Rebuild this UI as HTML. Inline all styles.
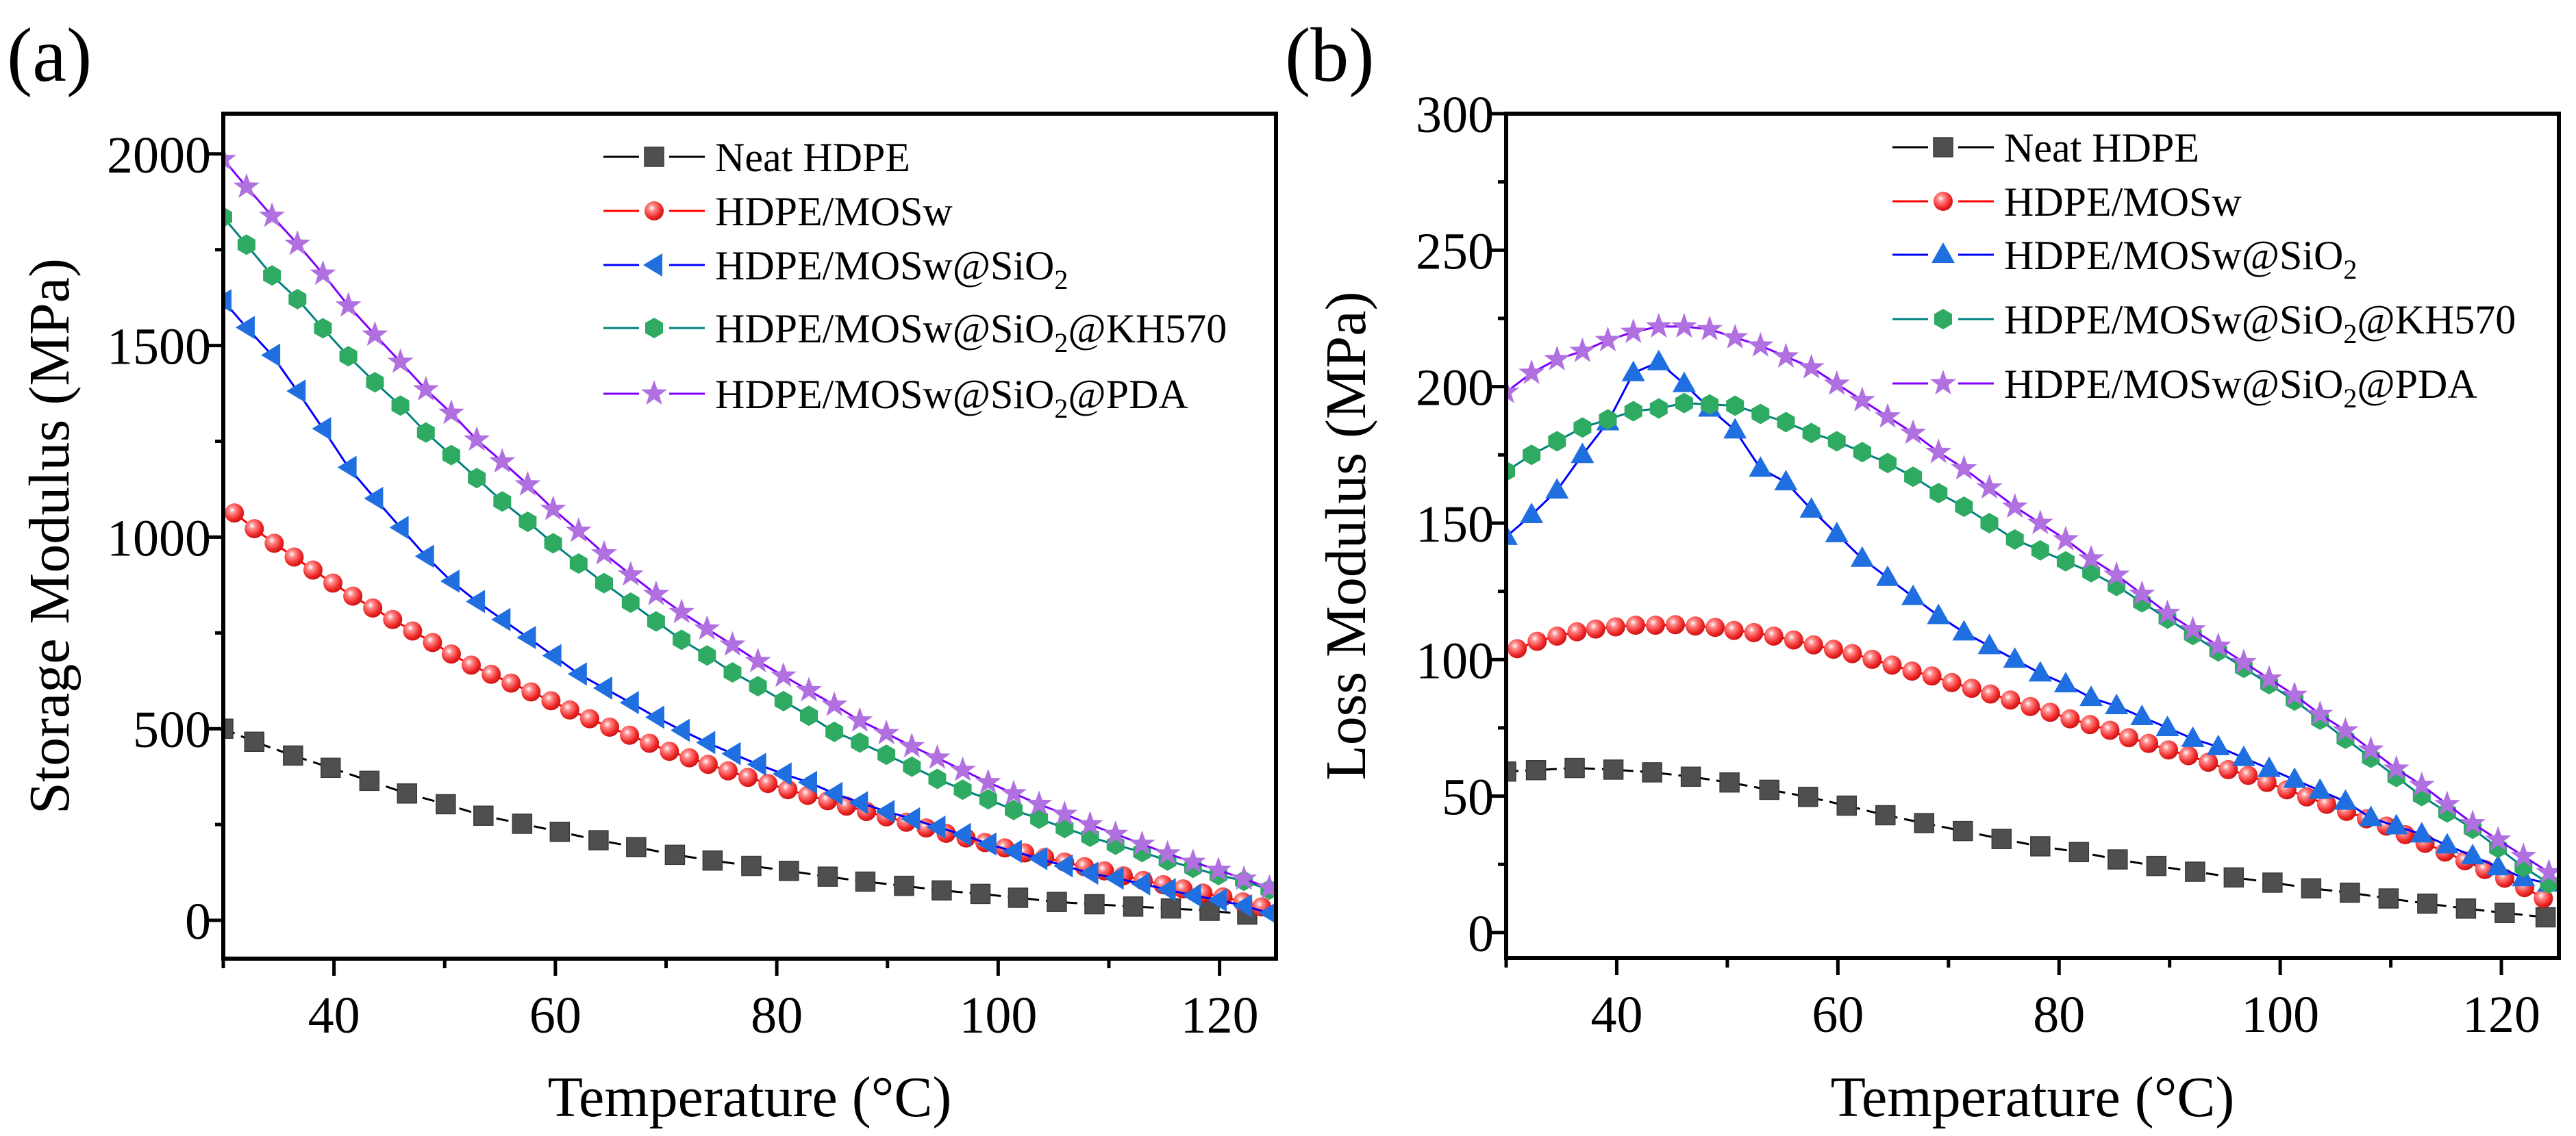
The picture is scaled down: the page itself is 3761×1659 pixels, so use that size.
<!DOCTYPE html>
<html><head><meta charset="utf-8"><style>
html,body{margin:0;padding:0;background:#fff;}
svg{display:block;font-family:"Liberation Serif",serif;}
</style></head><body>
<svg id="fig" xmlns="http://www.w3.org/2000/svg" width="3761" height="1659" viewBox="0 0 3761 1659">
<defs>
<radialGradient id="sph" cx="0.38" cy="0.35" r="0.7"><stop offset="0" stop-color="#ffffff"/><stop offset="0.25" stop-color="#ff8a8a"/><stop offset="0.7" stop-color="#f02828"/><stop offset="1" stop-color="#c01010"/></radialGradient>
<clipPath id="clipA"><rect x="326" y="166" width="1537" height="1234"/></clipPath>
<clipPath id="clipB"><rect x="2199" y="166" width="1537" height="1233"/></clipPath>
</defs>
<g id="root"></g>
</svg>
<script>
// ---- Panel (a) data: Storage modulus ----
const tempsA = [30,32.1,34.4,36.7,39.0,41.3,43.7,46.0,48.3,50.6,52.9,55.2,57.5,59.8,62.1,64.4,66.8,69.1,71.4,73.7,76.0,78.3,80.6,82.9,85.2,87.5,89.9,92.2,94.5,96.8,99.1,101.4,103.7,106.0,108.3,110.6,113.0,115.3,117.6,119.9,122.2,124.5];
const tempsRed = [31.0,32.8,34.6,36.4,38.1,39.9,41.7,43.5,45.3,47.1,48.9,50.6,52.4,54.2,56.0,57.8,59.6,61.3,63.1,64.9,66.7,68.5,70.3,72.1,73.8,75.6,77.4,79.2,81.0,82.8,84.6,86.3,88.1,89.9,91.7,93.5,95.3,97.1,98.8,100.6,102.4,104.2,106.0,107.8,109.6,111.3,113.1,114.9,116.7,118.5,120.3,122.1,123.8];
const tempsNeatA = [30,32.8,36.3,39.7,43.2,46.6,50.1,53.5,57.0,60.4,63.9,67.3,70.8,74.2,77.7,81.1,84.6,88.0,91.5,94.9,98.4,101.8,105.3,108.7,112.2,115.6,119.1,122.5];
const neatA = [500,466,430,398,364,331,303,273,252,231,209,191,171,156,142,129,114,101,90,78,69,59,48,42,36,31,25,15];
const mosA = [1063,1022,984,948,914,880,846,815,785,755,725,695,666,642,619,596,573,549,526,504,483,462,441,424,407,390,373,357,341,326,312,298,284,270,256,241,227,215,203,189,176,164,152,140,129,116,104,93,82,71,61,48,35];
const sio2A = [1617,1547,1475,1381,1283,1182,1101,1025,950,885,832,785,738,691,643,606,568,530,496,464,435,407,382,360,331,307,284,265,243,224,199,180,161,142,123,110,95,80,65,53,38,19];
const kh570A = [1835,1763,1683,1621,1545,1472,1404,1343,1273,1214,1154,1093,1040,984,931,880,829,780,732,691,647,611,572,534,492,464,432,401,369,341,316,288,265,241,218,197,178,156,137,118,103,80];
const pdaA = [1986,1914,1838,1765,1687,1604,1528,1457,1385,1324,1254,1197,1137,1073,1016,957,902,851,804,761,719,676,638,600,562,521,488,454,424,392,360,331,303,277,250,225,199,174,152,131,108,85];
const yTicksA = [0,500,1000,1500,2000];
const xTicks = [40,60,80,100,120];

// ---- Panel (b) data: Loss modulus ----
const tempsB = [30,32.3,34.6,36.9,39.2,41.5,43.8,46.1,48.4,50.7,53,55.3,57.6,59.9,62.2,64.5,66.8,69.1,71.4,73.7,76,78.3,80.6,82.9,85.2,87.5,89.8,92.1,94.4,96.7,99,101.3,103.6,105.9,108.2,110.5,112.8,115.1,117.4,119.7,122,124.3];
const tempsNeatB = [30,32.7,36.2,39.7,43.2,46.7,50.2,53.8,57.3,60.8,64.3,67.8,71.3,74.8,78.3,81.8,85.3,88.8,92.3,95.8,99.3,102.8,106.3,109.8,113.3,116.8,120.3,124.0];
const neatB = [59,59.5,60.3,59.7,58.7,57.1,55,52.3,49.7,46.5,43,40.1,37.2,34.3,31.6,29.5,26.8,24.4,22.3,20.2,18.3,16.2,14.6,12.5,10.6,8.8,7.2,5.6];
const mosB = [104,106.7,108.6,110.2,111.2,112,112.6,112.6,112.8,112.3,111.8,110.7,109.9,108.6,107.2,105.4,103.8,102.2,100.1,98,95.8,94,91.6,89.5,87.4,85.2,82.8,80.7,78.3,76.2,74.1,71.4,69.3,66.9,64.8,62.4,59.7,57.6,55,52.3,49.7,47,44.4,41.7,39,35.9,32.7,29.5,26.3,23.1,19.9,16.5,12.5];
const sio2B = [145,153,162,175,187,205,209,201,192,184,170,165,155,146,137,130,123,116,110,105,100,95,91,86,83,79,75,71,68,64,60,56,52,48,42,39,36,32,28,24,20,18];
const kh570B = [169,175,180,185,188,191,192,194,193.5,193,190,187,183,180,176,172,167,161,156,150,144,140,136,132,127,121,115,109,103,97,91,85,78,71,64,57,50,44,38,31,24,18];
const pdaB = [198,205,210,213,217,220,222,222,221,218,215,211,207,201,195,189,183,176,170,163,156,150,144,137,131,124,117,111,105,99,93,87,80,74,67,60,54,47,40,34,28,22];
const yTicksB = [0,50,100,150,200,250,300];

const NS = "http://www.w3.org/2000/svg";
const root = document.getElementById('root');
function mk(tag, attrs, parent){
  const e = document.createElementNS(NS, tag);
  for (const k in attrs) e.setAttribute(k, attrs[k]);
  (parent||root).appendChild(e);
  return e;
}
function marker(kind, cx, cy, g){
  let e;
  if (kind==='square'){
    e = mk('rect',{x:cx-14,y:cy-14,width:28,height:28,fill:'#4f4f4f',stroke:'#3a3a3a','stroke-width':1.5},g);
  } else if (kind==='sphere'){
    e = mk('circle',{cx:cx,cy:cy,r:14,fill:'url(#sph)'},g);
  } else if (kind==='triL'){
    e = mk('polygon',{points:`${cx-16},${cy} ${cx+12},${cy-17} ${cx+12},${cy+17}`,fill:'#1f6fe0'},g);
  } else if (kind==='triU'){
    e = mk('polygon',{points:`${cx},${cy-18} ${cx-17},${cy+12} ${cx+17},${cy+12}`,fill:'#1f6fe0'},g);
  } else if (kind==='hex'){
    let p=[];for(let i=0;i<6;i++){const a=Math.PI/6+i*Math.PI/3;p.push((cx+15*Math.cos(a)).toFixed(1)+','+(cy+15*Math.sin(a)).toFixed(1));}
    e = mk('polygon',{points:p.join(' '),fill:'#2eaa62'},g);
  } else {
    let p=[];for(let i=0;i<10;i++){const r=i%2?8:20;const a=-Math.PI/2+i*Math.PI/5;p.push((cx+r*Math.cos(a)).toFixed(1)+','+(cy+r*Math.sin(a)).toFixed(1));}
    e = mk('polygon',{points:p.join(' '),fill:'#b070e0'},g);
  }
  return e;
}

function panel(cfg){
  const {L,T,R,B,x0,x1,y0,y1,clip} = cfg;
  const sx = v => L + (v-x0)/(x1-x0)*(R-L);
  const sy = v => B - (v-y0)/(y1-y0)*(B-T);
  const g = mk('g',{});
  
  
  const plot = mk('g',{'clip-path':`url(#${clip})`},g);
  
  
  cfg.series.forEach(s=>{
    const sg = mk('g',{},plot);
    
    
    const d = s.y.map((v,i)=>(i?'L':'M')+sx(s.x[i]).toFixed(1)+','+sy(v).toFixed(1)).join(' ');
    const ln = mk('path',{d:d,fill:'none',stroke:s.color,'stroke-width':3,'stroke-dasharray':s.dash||'none'},sg);
    
    
    s.y.forEach((v,i)=>{
      const m = marker(s.kind, sx(s.x[i]), sy(v), sg);
      
      
    });
  });
  const fr = mk('rect',{x:L,y:T,width:R-L,height:B-T,fill:'none',stroke:'#000','stroke-width':6},g);
  
  
  for (let v=30; v<=x1+0.01; v+=10){
    const major = xTicks.includes(v);
    const t = mk('line',{x1:sx(v),x2:sx(v),y1:B,y2:B+(major?25:14),stroke:'#000','stroke-width':5},g);
    
    
  }
  xTicks.forEach(v=>{
    const t = mk('text',{x:sx(v),y:B+108,'font-size':76,'text-anchor':'middle'},g);
    t.textContent = v;
    
    
  });
  const yt = cfg.yTicks, step = (yt[1]-yt[0])/2;
  for (let v=yt[0]-step*Math.floor((yt[0]-y0)/step); v<=y1+0.01; v+=step){
    const major = yt.includes(v);
    const t = mk('line',{x1:L,x2:L-(major?22:12),y1:sy(v),y2:sy(v),stroke:'#000','stroke-width':5},g);
    
    
  }
  yt.forEach(v=>{
    const t = mk('text',{x:L-18,y:sy(v)+27,'font-size':76,'text-anchor':'end'},g);
    t.textContent = v;
    
    
  });
  const xt = mk('text',{x:(L+R)/2,y:1630,'font-size':84,'text-anchor':'middle'},g);
  xt.textContent = 'Temperature (\u00B0C)';
  
  
  const ytl = mk('text',{x:0,y:0,'font-size':84,'text-anchor':'middle',transform:`translate(${cfg.ytx},${(T+B)/2}) rotate(-90)`},g);
  ytl.textContent = cfg.ytitle;
  
  
  const pl = mk('text',{x:cfg.labX,y:118,'font-size':112},g);
  pl.textContent = cfg.label;
  
  
  const lg = mk('g',{},g);
  
  
  cfg.series.forEach((s,i)=>{
    const y = cfg.legRows[i];
    const e = mk('g',{},lg);
    
    
    mk('line',{x1:cfg.legX,x2:cfg.legX+148,y1:y,y2:y,stroke:s.color,'stroke-width':3},e);
    mk('rect',{x:cfg.legX+52,y:y-20,width:44,height:40,fill:'#fff'},e);
    marker(s.kind, cfg.legX+74, y, e);
    const t = mk('text',{x:cfg.legX+163,y:y+21,'font-size':60},e);
    t.innerHTML = s.label;
  });
}

const labels = ['Neat HDPE','HDPE/MOSw','HDPE/MOSw@SiO<tspan font-size="40" dy="14">2</tspan>','HDPE/MOSw@SiO<tspan font-size="40" dy="14">2</tspan><tspan dy="-14">@KH570</tspan>','HDPE/MOSw@SiO<tspan font-size="40" dy="14">2</tspan><tspan dy="-14">@PDA</tspan>'];

panel({name:'panel-a-storage-modulus',L:326,T:166,R:1863,B:1400,x0:30,x1:125.1,y0:-100,y1:2105,clip:'clipA',
  yTicks:yTicksA,ytitle:'Storage Modulus (MPa)',ytx:100,label:'(a)',labX:10,
  legX:881,legRows:[229,308,387,479,575],
  series:[
    {id:'neat-hdpe',x:tempsNeatA,y:neatA,color:'#000',dash:'18 10',kind:'square',label:labels[0]},
    {id:'hdpe-mosw',x:tempsRed,y:mosA,color:'#ff0000',kind:'sphere',label:labels[1]},
    {id:'hdpe-mosw-sio2',x:tempsA,y:sio2A,color:'#0000ff',kind:'triL',label:labels[2]},
    {id:'hdpe-mosw-sio2-kh570',x:tempsA,y:kh570A,color:'#008080',kind:'hex',label:labels[3]},
    {id:'hdpe-mosw-sio2-pda',x:tempsA,y:pdaA,color:'#7f00ff',kind:'star',label:labels[4]}
  ]});
panel({name:'panel-b-loss-modulus',L:2199,T:166,R:3736,B:1399,x0:30,x1:125.2,y0:-9.3,y1:300,clip:'clipB',
  yTicks:yTicksB,ytitle:'Loss Modulus (MPa)',ytx:1993,label:'(b)',labX:1876,
  legX:2763,legRows:[215,294,372,466,560],
  series:[
    {id:'neat-hdpe',x:tempsNeatB,y:neatB,color:'#000',dash:'18 10',kind:'square',label:labels[0]},
    {id:'hdpe-mosw',x:tempsRed,y:mosB,color:'#ff0000',kind:'sphere',label:labels[1]},
    {id:'hdpe-mosw-sio2',x:tempsB,y:sio2B,color:'#0000ff',kind:'triU',label:labels[2]},
    {id:'hdpe-mosw-sio2-kh570',x:tempsB,y:kh570B,color:'#008080',kind:'hex',label:labels[3]},
    {id:'hdpe-mosw-sio2-pda',x:tempsB,y:pdaB,color:'#7f00ff',kind:'star',label:labels[4]}
  ]});
</script>
</body></html>
